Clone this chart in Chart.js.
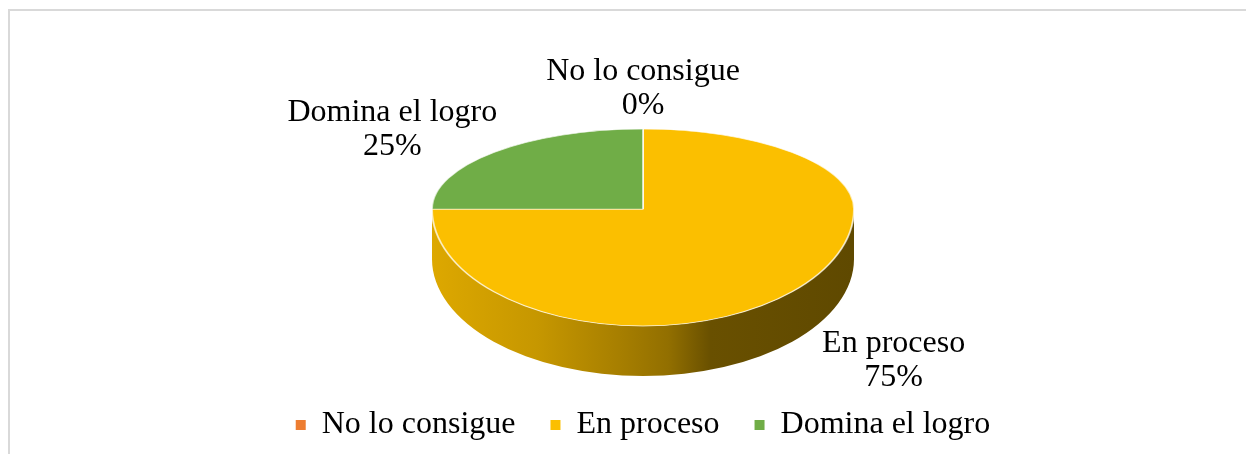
<!DOCTYPE html>
<html>
<head>
<meta charset="utf-8">
<script src="https://cdn.jsdelivr.net/npm/chart.js@4/dist/chart.umd.min.js"></script>
<style>
  html, body { margin: 0; padding: 0; background: #fff; }
  #marco { position: absolute; left: 8px; top: 9px; width: 1250px; height: 460px;
           border-top: 2px solid #d9d9d9; border-left: 2px solid #d9d9d9; }
  #grafico { position: absolute; left: 0; top: 0; }
</style>
</head>
<body>
<div id="marco"></div>
<canvas id="grafico" width="1246" height="454"></canvas>
<script>
// Datos del gráfico
const categorias = ['No lo consigue', 'En proceso', 'Domina el logro'];
const porcentajes = [0, 75, 25];
const colores = ['#ED7D31', '#FBBF00', '#70AD47'];

// Forma del pastel 3D (perspectiva: la mitad de atrás más aplastada)
const forma = { rx: 211, ryAtras: 80, ryFrente: 117, grosor: 50 };
const fuente = '"Liberation Serif", "Times New Roman", serif';

// Oscurecer un color hex por un factor
function oscurecer(hex, f) {
  const n = parseInt(hex.slice(1), 16);
  const r = Math.round(((n >> 16) & 255) * f);
  const g = Math.round(((n >> 8) & 255) * f);
  const b = Math.round((n & 255) * f);
  return 'rgb(' + r + ',' + g + ',' + b + ')';
}

const pastel3D = {
  id: 'pastel3D',
  beforeDatasetsDraw(chart) {
    const ctx = chart.ctx;
    const arcos = chart.getDatasetMeta(0).data;
    if (!arcos.length) return;
    const { x, y, outerRadius } = arcos[0];
    const kx = forma.rx / outerRadius;

    // Cara lateral (solo la parte de adelante es visible)
    arcos.forEach((a, i) => {
      const color = colores[i];
      const grad = ctx.createLinearGradient(x - forma.rx, 0, x + forma.rx, 0);
      [[0, 0.88], [0.25, 0.79], [0.45, 0.66], [0.56, 0.58], [0.66, 0.42], [1, 0.38]]
        .forEach(([p, f]) => grad.addColorStop(p, oscurecer(color, f)));
      [-2 * Math.PI, 0, 2 * Math.PI].forEach(desp => {
        const a0 = Math.max(a.startAngle + desp, 0);
        const a1 = Math.min(a.endAngle + desp, Math.PI);
        if (a1 - a0 < 0.001) return;
        ctx.save();
        ctx.beginPath();
        ctx.ellipse(x, y, forma.rx, forma.ryFrente, 0, a0, a1);
        ctx.ellipse(x, y + forma.grosor, forma.rx, forma.ryFrente, 0, a1, a0, true);
        ctx.closePath();
        ctx.fillStyle = grad;
        ctx.fill();
        ctx.restore();
      });
    });

    // Cara superior: mitad de atrás y mitad de adelante
    [[forma.ryAtras, 0, y + 1], [forma.ryFrente, y, chart.height]].forEach(([ry, y0, y1]) => {
      ctx.save();
      ctx.beginPath();
      ctx.rect(0, y0, chart.width, y1 - y0);
      ctx.clip();
      ctx.translate(x, y);
      ctx.scale(kx, ry / outerRadius);
      ctx.translate(-x, -y);
      arcos.forEach(a => a.draw(ctx));
      ctx.restore();
    });
    return false;
  },
  // Etiquetas de datos (afterDraw, porque el dibujo de datasets se cancela arriba)
  afterDraw(chart) {
    const ctx = chart.ctx;
    const arcos = chart.getDatasetMeta(0).data;
    ctx.save();
    ctx.font = '32px ' + fuente;
    ctx.fillStyle = '#000';
    ctx.textAlign = 'center';
    ctx.textBaseline = 'middle';
    arcos.forEach((a, i) => {
      const medio = (a.startAngle + a.endAngle) / 2;
      const s = Math.sin(medio), c = Math.cos(medio);
      const ry = s < 0 ? forma.ryAtras : forma.ryFrente;
      const lx = a.x + c * forma.rx * 1.68;
      const ly = a.y + s * ry * 1.15 + s * Math.abs(s) * 28 + (s > 0 ? forma.grosor * 0.84 : 0);
      ctx.fillText(categorias[i], lx, ly - 17);
      ctx.fillText(porcentajes[i] + '%', lx, ly + 17);
    });
    ctx.restore();
  }
};

const ctx = document.getElementById('grafico').getContext('2d');
new Chart(ctx, {
  type: 'pie',
  data: {
    labels: categorias,
    datasets: [{
      data: porcentajes,
      backgroundColor: colores,
      borderColor: 'rgba(255,255,255,0.7)',
      borderWidth: 1.5
    }]
  },
  options: {
    responsive: false,
    animation: false,
    layout: { padding: { left: 40, right: 0, top: 44, bottom: 3 } },
    plugins: {
      tooltip: { enabled: false },
      legend: {
        position: 'bottom',
        labels: {
          boxWidth: 10,
          boxHeight: 10,
          padding: 35,
          color: '#000',
          font: { family: fuente, size: 32 },
          generateLabels: (chart) =>
            Chart.overrides.pie.plugins.legend.labels.generateLabels(chart)
              .map(l => ({ ...l, lineWidth: 0 }))
        }
      }
    }
  },
  plugins: [pastel3D]
});
</script>
</body>
</html>
